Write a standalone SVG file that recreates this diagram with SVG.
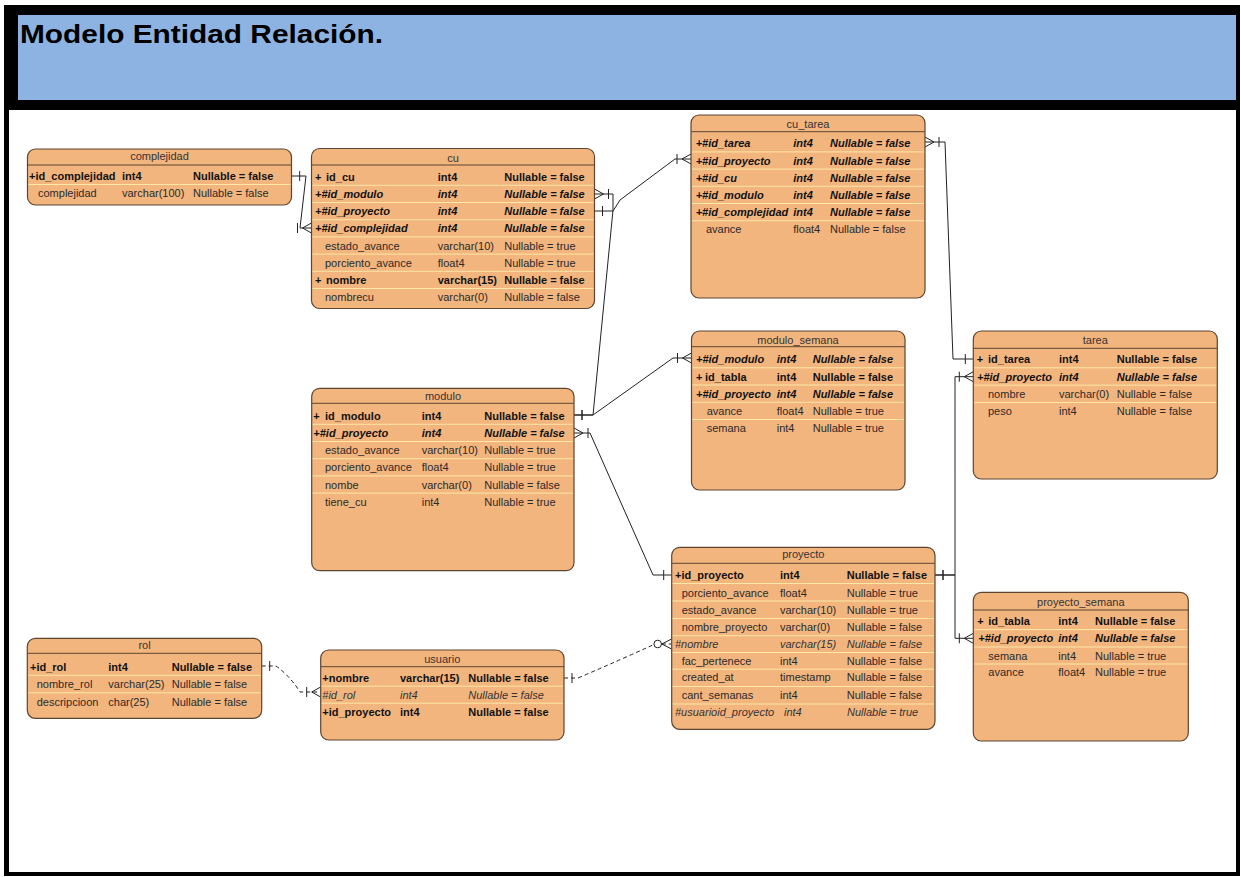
<svg xmlns="http://www.w3.org/2000/svg" width="1241" height="877" viewBox="0 0 1241 877">
  <style>
    .box { fill: #F3B57E; stroke: #5C4631; stroke-width: 1.2; }
    .hdr { stroke: #5C4631; stroke-width: 1; }
    .sep { stroke: #FBE7A6; stroke-width: 1; }
    text { font-family: "Liberation Sans", Arial, sans-serif; font-size: 11px; fill: #2a2a2a; }
    .title { text-anchor: middle; fill: #333; }
    .pk { font-weight: bold; fill: #111; }
    .pf { font-weight: bold; font-style: italic; fill: #111; }
    .fk { font-style: italic; fill: #333; }
    .ln { fill: none; stroke: #222; stroke-width: 1; }
    .dash { stroke-dasharray: 4 3; }
    .mk { fill: none; stroke: #222; stroke-width: 1; }
    .head { font-family: "Liberation Sans", Arial, sans-serif; font-size: 26px; font-weight: bold; fill: #000; }
  </style>
  <defs>
    <!-- +x of each marker points into the entity, tip at the entity edge -->
    <marker id="one" markerUnits="userSpaceOnUse" orient="auto-start-reverse" overflow="visible" refX="0" refY="0" markerWidth="1" markerHeight="1">
      <path class="mk" d="M-8,-5 V5"/>
    </marker>
    <marker id="many" markerUnits="userSpaceOnUse" orient="auto-start-reverse" overflow="visible" refX="0" refY="0" markerWidth="1" markerHeight="1">
      <path class="mk" d="M0,-5 L-9,0 L0,5 M-14,-5 V5"/>
    </marker>
    <marker id="zmany" markerUnits="userSpaceOnUse" orient="auto-start-reverse" overflow="visible" refX="0" refY="0" markerWidth="1" markerHeight="1">
      <path class="mk" d="M0,-5 L-10,0 L0,5"/>
      <circle cx="-14" cy="0" r="3.8" fill="#fff" stroke="#222" stroke-width="1"/>
    </marker>
  </defs>

  <!-- page frame -->
  <rect x="0" y="0" width="1241" height="877" fill="#fff"/>
  <rect x="4" y="5" width="1236" height="871" fill="#000"/>
  <rect x="18" y="15" width="1218" height="85" fill="#8DB3E2"/>
  <rect x="9" y="110" width="1227" height="762" fill="#fff"/>
  <text class="head" x="20" y="43" textLength="363" lengthAdjust="spacingAndGlyphs">Modelo Entidad Relación.</text>

  <!-- connectors -->
  <g id="connectors">
    <path class="ln" marker-start="url(#one)" marker-end="url(#many)" d="M291.7,176 H306 L300,228 H311.5"/>
    <path class="ln" marker-start="url(#one)" marker-end="url(#many)" d="M574,415 H593 L613,210 V194 H594.5"/>
    <path class="ln" marker-start="url(#one)" marker-end="url(#many)" d="M594.5,211 H613 L620,200 L675,159 H691"/>
    <path class="ln" marker-start="url(#one)" marker-end="url(#many)" d="M574,415 H593 L673,358 H691.5"/>
    <path class="ln" marker-start="url(#one)" marker-end="url(#many)" d="M671.7,575 H653 L590,433 H574"/>
    <path class="ln" marker-start="url(#one)" marker-end="url(#many)" d="M973.3,359 H953 L945,142 H925"/>
    <path class="ln" marker-start="url(#one)" marker-end="url(#many)" d="M935,575 H955 V376.7 H973.3"/>
    <path class="ln" marker-start="url(#one)" marker-end="url(#many)" d="M935,575 H955 V638.3 H973.3"/>
    <path class="ln dash" marker-start="url(#one)" marker-end="url(#many)" d="M261.7,666 H276 Q290,676 300,692 H320.7"/>
    <path class="ln dash" marker-start="url(#one)" marker-end="url(#zmany)" d="M564,678 H578 Q620,660 655,644 H671.7"/>
  </g>

  <!-- complejidad -->
  <g id="complejidad">
    <rect class="box" x="27.5" y="149" width="264" height="56" rx="8"/>
    <line class="hdr" x1="27.5" y1="165" x2="291.5" y2="165"/>
    <line class="sep" x1="28.5" y1="184.5" x2="290.5" y2="184.5"/>
    <text class="title" x="159.5" y="160">complejidad</text>
    <text class="pk" x="29" y="180">+id_complejidad</text>
    <text class="pk" x="122" y="180">int4</text>
    <text class="pk" x="193" y="180">Nullable = false</text>
    <text x="38" y="197">complejidad</text>
    <text x="122" y="197">varchar(100)</text>
    <text x="193" y="197">Nullable = false</text>
  </g>

  <!-- cu -->
  <g id="cu">
    <rect class="box" x="311.5" y="148.5" width="283" height="160" rx="8"/>
    <line class="hdr" x1="311.5" y1="165" x2="594.5" y2="165"/>
    <g class="sep">
      <line x1="312.5" y1="185.3" x2="593.5" y2="185.3"/>
      <line x1="312.5" y1="202.5" x2="593.5" y2="202.5"/>
      <line x1="312.5" y1="219.7" x2="593.5" y2="219.7"/>
      <line x1="312.5" y1="236.9" x2="593.5" y2="236.9"/>
      <line x1="312.5" y1="254.1" x2="593.5" y2="254.1"/>
      <line x1="312.5" y1="271.3" x2="593.5" y2="271.3"/>
      <line x1="312.5" y1="288.5" x2="593.5" y2="288.5"/>
    </g>
    <text class="title" x="453" y="162">cu</text>
    <text class="pk" y="180.7"><tspan x="315">+</tspan><tspan x="326">id_cu</tspan></text>
    <text class="pk" x="437.7" y="180.7">int4</text>
    <text class="pk" x="504.3" y="180.7">Nullable = false</text>
    <text class="pf" x="315" y="197.9">+#id_modulo</text>
    <text class="pf" x="437.7" y="197.9">int4</text>
    <text class="pf" x="504.3" y="197.9">Nullable = false</text>
    <text class="pf" x="315" y="215.1">+#id_proyecto</text>
    <text class="pf" x="437.7" y="215.1">int4</text>
    <text class="pf" x="504.3" y="215.1">Nullable = false</text>
    <text class="pf" x="315" y="232.3">+#id_complejidad</text>
    <text class="pf" x="437.7" y="232.3">int4</text>
    <text class="pf" x="504.3" y="232.3">Nullable = false</text>
    <text x="325" y="249.5">estado_avance</text>
    <text x="437.7" y="249.5">varchar(10)</text>
    <text x="504.3" y="249.5">Nullable = true</text>
    <text x="325" y="266.7">porciento_avance</text>
    <text x="437.7" y="266.7">float4</text>
    <text x="504.3" y="266.7">Nullable = true</text>
    <text class="pk" y="283.9"><tspan x="315">+</tspan><tspan x="326">nombre</tspan></text>
    <text class="pk" x="437.7" y="283.9">varchar(15)</text>
    <text class="pk" x="504.3" y="283.9">Nullable = false</text>
    <text x="325" y="301.1">nombrecu</text>
    <text x="437.7" y="301.1">varchar(0)</text>
    <text x="504.3" y="301.1">Nullable = false</text>
  </g>

  <!-- cu_tarea -->
  <g id="cu_tarea">
    <rect class="box" x="691" y="115" width="234" height="183" rx="8"/>
    <line class="hdr" x1="691" y1="131.7" x2="925" y2="131.7"/>
    <g class="sep">
      <line x1="692" y1="151.9" x2="924" y2="151.9"/>
      <line x1="692" y1="169.1" x2="924" y2="169.1"/>
      <line x1="692" y1="186.3" x2="924" y2="186.3"/>
      <line x1="692" y1="203.5" x2="924" y2="203.5"/>
      <line x1="692" y1="220.7" x2="924" y2="220.7"/>
    </g>
    <text class="title" x="808" y="128.3">cu_tarea</text>
    <text class="pf" x="695.7" y="147.3">+#id_tarea</text>
    <text class="pf" x="793.3" y="147.3">int4</text>
    <text class="pf" x="830" y="147.3">Nullable = false</text>
    <text class="pf" x="695.7" y="164.5">+#id_proyecto</text>
    <text class="pf" x="793.3" y="164.5">int4</text>
    <text class="pf" x="830" y="164.5">Nullable = false</text>
    <text class="pf" x="695.7" y="181.7">+#id_cu</text>
    <text class="pf" x="793.3" y="181.7">int4</text>
    <text class="pf" x="830" y="181.7">Nullable = false</text>
    <text class="pf" x="695.7" y="198.9">+#id_modulo</text>
    <text class="pf" x="793.3" y="198.9">int4</text>
    <text class="pf" x="830" y="198.9">Nullable = false</text>
    <text class="pf" x="695.7" y="216.1">+#id_complejidad</text>
    <text class="pf" x="793.3" y="216.1">int4</text>
    <text class="pf" x="830" y="216.1">Nullable = false</text>
    <text x="706" y="233.3">avance</text>
    <text x="793.3" y="233.3">float4</text>
    <text x="830" y="233.3">Nullable = false</text>
  </g>

  <!-- modulo_semana -->
  <g id="modulo_semana">
    <rect class="box" x="691.5" y="331" width="213.5" height="159" rx="8"/>
    <line class="hdr" x1="691.5" y1="346.7" x2="905" y2="346.7"/>
    <g class="sep">
      <line x1="692.5" y1="367.8" x2="904" y2="367.8"/>
      <line x1="692.5" y1="385" x2="904" y2="385"/>
      <line x1="692.5" y1="402.3" x2="904" y2="402.3"/>
      <line x1="692.5" y1="419.5" x2="904" y2="419.5"/>
    </g>
    <text class="title" x="798" y="344">modulo_semana</text>
    <text class="pf" x="696" y="363.3">+#id_modulo</text>
    <text class="pf" x="776.7" y="363.3">int4</text>
    <text class="pf" x="812.7" y="363.3">Nullable = false</text>
    <text class="pk" y="380.6"><tspan x="696">+</tspan><tspan x="705">id_tabla</tspan></text>
    <text class="pk" x="776.7" y="380.6">int4</text>
    <text class="pk" x="812.7" y="380.6">Nullable = false</text>
    <text class="pf" x="696" y="397.9">+#id_proyecto</text>
    <text class="pf" x="776.7" y="397.9">int4</text>
    <text class="pf" x="812.7" y="397.9">Nullable = false</text>
    <text x="706.7" y="415">avance</text>
    <text x="776.7" y="415">float4</text>
    <text x="812.7" y="415">Nullable = true</text>
    <text x="706.7" y="431.7">semana</text>
    <text x="776.7" y="431.7">int4</text>
    <text x="812.7" y="431.7">Nullable = true</text>
  </g>

  <!-- tarea -->
  <g id="tarea">
    <rect class="box" x="973.3" y="331" width="244" height="148" rx="8"/>
    <line class="hdr" x1="973.3" y1="348.3" x2="1217.3" y2="348.3"/>
    <g class="sep">
      <line x1="974.3" y1="367.8" x2="1216.3" y2="367.8"/>
      <line x1="974.3" y1="385.2" x2="1216.3" y2="385.2"/>
      <line x1="974.3" y1="402.5" x2="1216.3" y2="402.5"/>
    </g>
    <text class="title" x="1095.3" y="344">tarea</text>
    <text class="pk" y="363"><tspan x="976.7">+</tspan><tspan x="988">id_tarea</tspan></text>
    <text class="pk" x="1059" y="363">int4</text>
    <text class="pk" x="1116.7" y="363">Nullable = false</text>
    <text class="pf" x="977" y="380.7">+#id_proyecto</text>
    <text class="pf" x="1059" y="380.7">int4</text>
    <text class="pf" x="1116.7" y="380.7">Nullable = false</text>
    <text x="988" y="398">nombre</text>
    <text x="1059" y="398">varchar(0)</text>
    <text x="1116.7" y="398">Nullable = false</text>
    <text x="988" y="415">peso</text>
    <text x="1059" y="415">int4</text>
    <text x="1116.7" y="415">Nullable = false</text>
  </g>

  <!-- modulo -->
  <g id="modulo">
    <rect class="box" x="311.7" y="388.3" width="262.3" height="182.4" rx="8"/>
    <line class="hdr" x1="311.7" y1="403.3" x2="574" y2="403.3"/>
    <g class="sep">
      <line x1="312.7" y1="424.3" x2="573" y2="424.3"/>
      <line x1="312.7" y1="441.5" x2="573" y2="441.5"/>
      <line x1="312.7" y1="458.7" x2="573" y2="458.7"/>
      <line x1="312.7" y1="475.9" x2="573" y2="475.9"/>
      <line x1="312.7" y1="493.1" x2="573" y2="493.1"/>
    </g>
    <text class="title" x="443" y="400">modulo</text>
    <text class="pk" y="419.7"><tspan x="313.3">+</tspan><tspan x="325">id_modulo</tspan></text>
    <text class="pk" x="421.7" y="419.7">int4</text>
    <text class="pk" x="484.3" y="419.7">Nullable = false</text>
    <text class="pf" x="313.3" y="436.9">+#id_proyecto</text>
    <text class="pf" x="421.7" y="436.9">int4</text>
    <text class="pf" x="484.3" y="436.9">Nullable = false</text>
    <text x="325" y="454.1">estado_avance</text>
    <text x="421.7" y="454.1">varchar(10)</text>
    <text x="484.3" y="454.1">Nullable = true</text>
    <text x="325" y="471.3">porciento_avance</text>
    <text x="421.7" y="471.3">float4</text>
    <text x="484.3" y="471.3">Nullable = true</text>
    <text x="325" y="488.5">nombe</text>
    <text x="421.7" y="488.5">varchar(0)</text>
    <text x="484.3" y="488.5">Nullable = false</text>
    <text x="325" y="505.7">tiene_cu</text>
    <text x="421.7" y="505.7">int4</text>
    <text x="484.3" y="505.7">Nullable = true</text>
  </g>

  <!-- proyecto -->
  <g id="proyecto">
    <rect class="box" x="671.7" y="547.3" width="263.3" height="182" rx="8"/>
    <line class="hdr" x1="671.7" y1="563.3" x2="935" y2="563.3"/>
    <g class="sep">
      <line x1="672.7" y1="583.5" x2="934" y2="583.5"/>
      <line x1="672.7" y1="601" x2="934" y2="601"/>
      <line x1="672.7" y1="618.5" x2="934" y2="618.5"/>
      <line x1="672.7" y1="635.7" x2="934" y2="635.7"/>
      <line x1="672.7" y1="652.5" x2="934" y2="652.5"/>
      <line x1="672.7" y1="669.2" x2="934" y2="669.2"/>
      <line x1="672.7" y1="686.5" x2="934" y2="686.5"/>
      <line x1="672.7" y1="704" x2="934" y2="704"/>
    </g>
    <text class="title" x="803.3" y="558">proyecto</text>
    <text class="pk" x="675" y="579">+id_proyecto</text>
    <text class="pk" x="780" y="579">int4</text>
    <text class="pk" x="846.7" y="579">Nullable = false</text>
    <text x="681.7" y="596.7">porciento_avance</text>
    <text x="780" y="596.7">float4</text>
    <text x="846.7" y="596.7">Nullable = true</text>
    <text x="681.7" y="614">estado_avance</text>
    <text x="780" y="614">varchar(10)</text>
    <text x="846.7" y="614">Nullable = true</text>
    <text x="681.7" y="631.3">nombre_proyecto</text>
    <text x="780" y="631.3">varchar(0)</text>
    <text x="846.7" y="631.3">Nullable = false</text>
    <text class="fk" x="675" y="648">#nombre</text>
    <text class="fk" x="780" y="648">varchar(15)</text>
    <text class="fk" x="846.7" y="648">Nullable = false</text>
    <text x="681.7" y="664.7">fac_pertenece</text>
    <text x="780" y="664.7">int4</text>
    <text x="846.7" y="664.7">Nullable = false</text>
    <text x="681.7" y="681.3">created_at</text>
    <text x="780" y="681.3">timestamp</text>
    <text x="846.7" y="681.3">Nullable = false</text>
    <text x="681.7" y="699">cant_semanas</text>
    <text x="780" y="699">int4</text>
    <text x="846.7" y="699">Nullable = false</text>
    <text class="fk" x="675" y="716.3">#usuarioid_proyecto</text>
    <text class="fk" x="784" y="716.3">int4</text>
    <text class="fk" x="847" y="716.3">Nullable = true</text>
  </g>

  <!-- proyecto_semana -->
  <g id="proyecto_semana">
    <rect class="box" x="973.3" y="592.3" width="215" height="148.7" rx="8"/>
    <line class="hdr" x1="973.3" y1="610" x2="1188.3" y2="610"/>
    <g class="sep">
      <line x1="974.3" y1="629.6" x2="1187.3" y2="629.6"/>
      <line x1="974.3" y1="647" x2="1187.3" y2="647"/>
      <line x1="974.3" y1="664" x2="1187.3" y2="664"/>
    </g>
    <text class="title" x="1080.8" y="605.5">proyecto_semana</text>
    <text class="pk" y="625"><tspan x="977.3">+</tspan><tspan x="988.3">id_tabla</tspan></text>
    <text class="pk" x="1058.3" y="625">int4</text>
    <text class="pk" x="1095" y="625">Nullable = false</text>
    <text class="pf" x="978.3" y="642.3">+#id_proyecto</text>
    <text class="pf" x="1058.3" y="642.3">int4</text>
    <text class="pf" x="1095" y="642.3">Nullable = false</text>
    <text x="988.3" y="659.7">semana</text>
    <text x="1058.3" y="659.7">int4</text>
    <text x="1095" y="659.7">Nullable = true</text>
    <text x="988.3" y="676.3">avance</text>
    <text x="1058.3" y="676.3">float4</text>
    <text x="1095" y="676.3">Nullable = true</text>
  </g>

  <!-- rol -->
  <g id="rol">
    <rect class="box" x="27.3" y="638.3" width="234.4" height="80" rx="8"/>
    <line class="hdr" x1="27.3" y1="653.3" x2="261.7" y2="653.3"/>
    <g class="sep">
      <line x1="28.3" y1="675.3" x2="260.7" y2="675.3"/>
      <line x1="28.3" y1="692.8" x2="260.7" y2="692.8"/>
    </g>
    <text class="title" x="144.5" y="649">rol</text>
    <text class="pk" x="30" y="670.7">+id_rol</text>
    <text class="pk" x="108.3" y="670.7">int4</text>
    <text class="pk" x="171.7" y="670.7">Nullable = false</text>
    <text x="36.7" y="688">nombre_rol</text>
    <text x="108.3" y="688">varchar(25)</text>
    <text x="171.7" y="688">Nullable = false</text>
    <text x="36.7" y="705.7">descripcioon</text>
    <text x="108.3" y="705.7">char(25)</text>
    <text x="171.7" y="705.7">Nullable = false</text>
  </g>

  <!-- usuario -->
  <g id="usuario">
    <rect class="box" x="320.7" y="650" width="243.3" height="90" rx="8"/>
    <line class="hdr" x1="320.7" y1="666.7" x2="564" y2="666.7"/>
    <g class="sep">
      <line x1="321.7" y1="686.2" x2="563" y2="686.2"/>
      <line x1="321.7" y1="703.2" x2="563" y2="703.2"/>
    </g>
    <text class="title" x="442.3" y="663">usuario</text>
    <text class="pk" x="322.3" y="681.7">+nombre</text>
    <text class="pk" x="400" y="681.7">varchar(15)</text>
    <text class="pk" x="468.3" y="681.7">Nullable = false</text>
    <text class="fk" x="322.3" y="698.7">#id_rol</text>
    <text class="fk" x="400" y="698.7">int4</text>
    <text class="fk" x="468.3" y="698.7">Nullable = false</text>
    <text class="pk" x="322.3" y="715.7">+id_proyecto</text>
    <text class="pk" x="400" y="715.7">int4</text>
    <text class="pk" x="468.3" y="715.7">Nullable = false</text>
  </g>
</svg>
